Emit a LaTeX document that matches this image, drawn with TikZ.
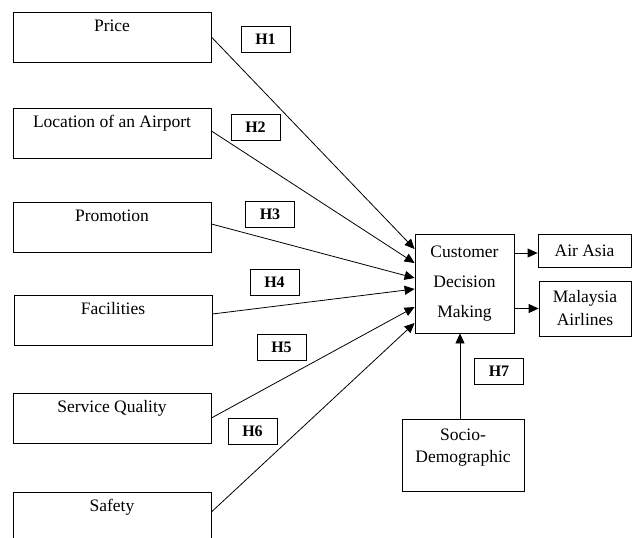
\documentclass[tikz,border=0pt]{standalone}
\usepackage{fontspec}
\setmainfont{Liberation Serif}
\usetikzlibrary{arrows.meta}
\begin{document}
\begin{tikzpicture}[x=1pt,y=-1pt,
 every node/.style={font=\fontsize{17.5}{21}\selectfont},
 box/.style={draw, line width=0.8pt, minimum width=198pt, minimum height=50pt, inner sep=0pt},
 toplbl/.style={anchor=north, inner sep=0pt, yshift=-12.5pt, text height=0.7em, text depth=0.2em},
 hbox/.style={draw, line width=0.8pt, minimum width=49pt, minimum height=26pt, inner sep=0pt, font=\fontsize{16}{19}\selectfont\bfseries},
 conn/.style={line width=0.8pt, -{Triangle[length=10pt,width=9pt]}}
]
\useasboundingbox (0,0) rectangle (632,538);
\clip (0,0) rectangle (632,538);

\node[box, label={[toplbl]north:Price}] (price) at (112,37) {};
\node[box, label={[toplbl]north:Location of an Airport}] (loc) at (112,133) {};
\node[box, label={[toplbl]north:Promotion}] (promo) at (112,227.5) {};
\node[box, label={[toplbl]north:Facilities}] (fac) at (113,320.5) {};
\node[box, label={[toplbl]north:Service Quality}] (serv) at (112,418) {};
\node[box, label={[toplbl]north:Safety}] (safe) at (112,517) {};

\node[draw, line width=0.8pt, minimum width=99pt, minimum height=99pt, inner sep=0pt, align=center, font=\fontsize{17.5}{30}\selectfont] (cdm) at (464.5,283.5) {Customer\\Decision\\Making};
\node[draw, line width=0.8pt, minimum width=93pt, minimum height=33pt, inner sep=0pt] (airasia) at (584.5,250.5) {Air Asia};
\node[draw, line width=0.8pt, minimum width=92pt, minimum height=55pt, inner sep=0pt, align=center, font=\fontsize{17.5}{23}\selectfont] (mas) at (585,308.5) {Malaysia\\Airlines};
\node[draw, line width=0.8pt, minimum width=122pt, minimum height=72pt, inner sep=0pt,
  label={[anchor=north, inner sep=0pt, yshift=-10pt, align=center, font=\fontsize{17.5}{22}\selectfont]north:Socio-\\Demographic}] (socio) at (463,455) {};

\node[hbox] (h1) at (265.5,39) {H1};
\node[hbox] (h2) at (255.5,127) {H2};
\node[hbox] (h3) at (270,214) {H3};
\node[hbox] (h4) at (274.5,282.5) {H4};
\node[hbox] (h5) at (281.5,347) {H5};
\node[hbox] (h6) at (252.5,431) {H6};
\node[hbox] (h7) at (499,371) {H7};

\draw[conn] (price.east) -- ([yshift=34.5pt]cdm.west);
\draw[conn] ([yshift=2pt]loc.east) -- ([yshift=20.5pt]cdm.west);
\draw[conn] ([yshift=3.5pt]promo.east) -- ([yshift=5.5pt]cdm.west);
\draw[conn] ([yshift=6.5pt]fac.east) -- ([yshift=-5.5pt]cdm.west);
\draw[conn] (serv.east) -- ([yshift=-23.5pt]cdm.west);
\draw[conn] ([yshift=5pt]safe.east) -- ([yshift=-39.5pt]cdm.west);

\draw[conn] ([yshift=-2.5pt]cdm.east |- airasia.west) -- ([yshift=-2.5pt]airasia.west);
\draw[conn] (cdm.east |- mas.west) -- (mas.west);
\draw[conn] ([xshift=-3pt]socio.north) -- ([xshift=-3pt]socio.north |- cdm.south);
\end{tikzpicture}
\end{document}
